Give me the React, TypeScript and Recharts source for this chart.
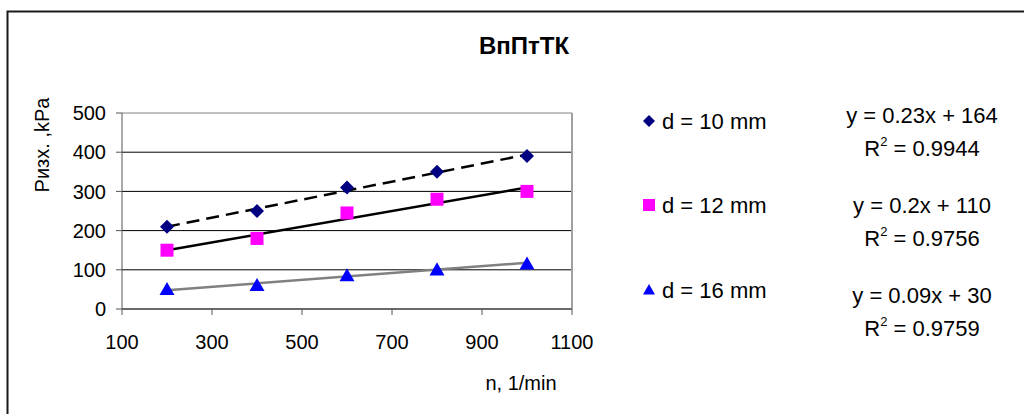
import React from 'react';
import { ComposedChart, Scatter, Line, XAxis, YAxis, CartesianGrid, ReferenceLine } from 'recharts';

const rpm = [200, 400, 600, 800, 1000];
const d10 = [210, 250, 310, 350, 390];
const d12 = [150, 180, 245, 280, 300];
const d16 = [50, 60, 85, 100, 115];

// trendline ends
const trendRpm = [200, 1000];
const trend10 = [210, 394];
const trend12 = [150, 310];
const trend16 = [48, 118];

const seriesNames = ['d = 10 mm', 'd = 12 mm', 'd = 16 mm'];
const equations = ['y = 0.23x + 164', 'y = 0.2x + 110', 'y = 0.09x + 30'];
const rSquared = ['0.9944', '0.9756', '0.9759'];

const xTicks = [100, 300, 500, 700, 900, 1100];
const yTicks = [0, 100, 200, 300, 400, 500];

const font = '"Liberation Sans", Arial, sans-serif';
const colors = ['#000080', '#FF00FF', '#0000FF'];

const toPoints = (xs: number[], ys: number[]) => xs.map((n, i) => ({ n, p: ys[i] }));

const Diamond = ({ cx, cy, fill, r = 7 }: any) => (
  <polygon points={`${cx},${cy - r} ${cx + r},${cy} ${cx},${cy + r} ${cx - r},${cy}`} fill={fill} />
);
const Square = ({ cx, cy, fill, r = 6.5 }: any) => (
  <rect x={cx - r} y={cy - r} width={r * 2} height={r * 2} fill={fill} />
);
const Triangle = ({ cx, cy, fill, r = 7.5 }: any) => (
  <polygon points={`${cx},${cy - r} ${cx + r},${cy + r * 0.75} ${cx - r},${cy + r * 0.75}`} fill={fill} />
);
const shapes = [Diamond, Square, Triangle];

export default function App() {
  const legendY = [121, 205, 290];
  const eqTop = [115, 205, 295];
  return (
    <div style={{ position: 'absolute', left: 0, top: 0, width: 1024, height: 414, overflow: 'hidden', background: '#fff' }}>
      <ComposedChart
        width={1024}
        height={414}
        margin={{ top: 113, right: 452, bottom: 65, left: 62 }}
      >
        <CartesianGrid vertical={false} stroke="#000" />
        <XAxis
          type="number"
          dataKey="n"
          domain={[100, 1100]}
          ticks={xTicks}
          allowDataOverflow
          height={40}
          stroke="#555"
          tickSize={6}
          tickMargin={20}
          tick={{ fontSize: 20, fill: '#000', fontFamily: font }}
        />
        <YAxis
          type="number"
          dataKey="p"
          domain={[0, 500]}
          ticks={yTicks}
          allowDataOverflow
          width={60}
          stroke="#555"
          tickSize={6}
          tickMargin={10}
          tick={{ fontSize: 20, fill: '#000', fontFamily: font }}
        />
        <ReferenceLine y={500} stroke="#c0c0c0" strokeWidth={2} />
        <ReferenceLine x={1100} stroke="#a0a0a0" strokeWidth={2} />
        <Line data={toPoints(trendRpm, trend10)} dataKey="p" stroke="#000" strokeWidth={2.5} strokeDasharray="13 7" dot={false} isAnimationActive={false} />
        <Line data={toPoints(trendRpm, trend12)} dataKey="p" stroke="#000" strokeWidth={2.5} dot={false} isAnimationActive={false} />
        <Line data={toPoints(trendRpm, trend16)} dataKey="p" stroke="#808080" strokeWidth={2.5} dot={false} isAnimationActive={false} />
        <Scatter data={toPoints(rpm, d10)} dataKey="p" fill={colors[0]} shape={<Diamond />} isAnimationActive={false} />
        <Scatter data={toPoints(rpm, d12)} dataKey="p" fill={colors[1]} shape={<Square />} isAnimationActive={false} />
        <Scatter data={toPoints(rpm, d16)} dataKey="p" fill={colors[2]} shape={<Triangle />} isAnimationActive={false} />
      </ComposedChart>

      <svg width={1024} height={414} style={{ position: 'absolute', left: 0, top: 0, pointerEvents: 'none' }}>
        <path d="M7.5,414 V11.5 H1024" fill="none" stroke="#1a1a1a" strokeWidth={2} />
        <text x={524} y={54} textAnchor="middle" fontFamily={font} fontWeight="bold" fontSize={24}>ВпПтТК</text>
        <text transform="translate(49,145) rotate(-90)" textAnchor="middle" fontFamily={font} fontSize={20}>Ризх. ,kPa</text>
        <text x={521} y={390} textAnchor="middle" fontFamily={font} fontSize={20}>n, 1/min</text>
        {seriesNames.map((name, i) => {
          const Shape = shapes[i];
          return (
            <g key={name}>
              <Shape cx={649} cy={legendY[i]} fill={colors[i]} r={6} />
              <text x={662} y={legendY[i] + 8} fontFamily={font} fontSize={22}>{name}</text>
            </g>
          );
        })}
        {equations.map((eq, i) => (
          <g key={eq} fontFamily={font} fontSize={22} textAnchor="middle">
            <text x={922} y={eqTop[i] + 8}>{eq}</text>
            <text x={922} y={eqTop[i] + 41}>
              R<tspan dy={-10} fontSize={13}>2</tspan>
              <tspan dy={10}> = {rSquared[i]}</tspan>
            </text>
          </g>
        ))}
      </svg>
    </div>
  );
}
